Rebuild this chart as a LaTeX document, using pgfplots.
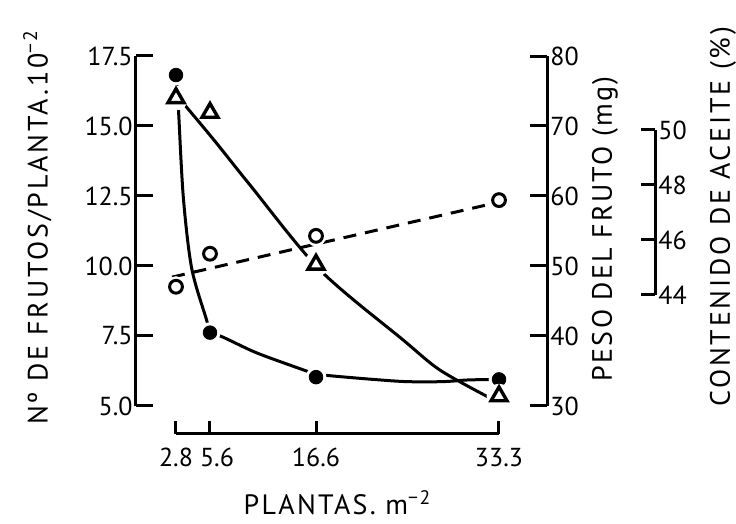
\documentclass[border=0pt]{standalone}
\usepackage{pgfplots}
\pgfplotsset{compat=1.18}
\usepackage{fontspec}
\setmainfont{PT Sans}
\newcommand\ticfont{\fontsize{13}{15}\selectfont}
\newcommand\labfont[1]{\fontsize{14}{16}\selectfont\addfontfeatures{LetterSpace=#1}}
\pgfplotsset{
  base/.style={scale only axis, clip=false, set layers,
    axis line style={line width=1.5pt},
    every tick/.style={line width=1.5pt, black},
    tick align=inside, major tick length=8.5pt,
    ticklabel style={font=\ticfont, inner sep=1.5pt},
    /pgf/number format/assume math mode=true,
    % the hand-drawn density axis is not evenly spaced: piecewise-linear placement
    x coord trafo/.code={\pgfmathparse{(##1<=5.6) ? (2.8+(##1-2.8)*1.1466) : ((##1<=16.6) ? (6.0105+(##1-5.6)*0.9100) : (16.02+(##1-16.6)*1.0348))}},
    xmin=-0.494, xmax=37.677,
  },
  fit/.style={line width=1.5pt, black, no markers, smooth, tension=0.5},
  halo/.style={only marks, mark=*, mark size=#1, draw=white, fill=white, on layer=axis descriptions},
}
\begin{document}
\begin{tikzpicture}
% frutos axis (left)
\begin{axis}[base, at={(68pt,59pt)}, anchor=south west, width=205.5pt, height=175pt,
  ymin=5, ymax=17.5, axis y line*=left, axis x line=none, xtick=\empty,
  ytick={5,7.5,10,12.5,15,17.5},
  yticklabel style={/pgf/number format/.cd, fixed, fixed zerofill, precision=1},
  every axis y label/.style={at={(axis description cs:-0.240,0.511)}, anchor=center, rotate=90, font=\labfont{10}},
  ylabel={Nº DE FRUTOS/PLANTA.10\textsuperscript{−2}}]
\addplot[fit] coordinates {(2.8,16.82) (2.99,15.69) (3.40,12.47) (4.09,9.92) (5.32,8.07) (5.6,7.62) (6.81,7.48) (9.75,7.0) (11.48,6.76) (15.28,6.29) (16.6,6.14) (18.18,6.07) (21.8,5.95) (24.86,5.87) (28.2,5.87) (30.48,5.93) (33.3,5.95)};
\addplot[halo=5pt] coordinates {(2.8,16.82) (5.6,7.62) (16.6,6.03) (33.3,5.95)};
\addplot[only marks, mark=*, mark size=3.4pt, black, on layer=axis foreground] coordinates {(2.8,16.82) (5.6,7.62) (16.6,6.03) (33.3,5.95)};
\end{axis}
% peso axis (right)
\begin{axis}[base, at={(68pt,59pt)}, anchor=south west, width=205.5pt, height=175pt,
  ymin=30, ymax=80, axis y line*=right, axis x line=none, xtick=\empty,
  ytick={30,40,50,60,70,80},
  every axis y label/.style={at={(axis description cs:1.141,0.506)}, anchor=center, rotate=90, font=\labfont{8}},
  ylabel={PESO DEL FRUTO (mg)}]
\addplot[fit] coordinates {(2.8,74.49) (6.01,68.0) (9.75,61.57) (16.96,49.43) (24.55,39.43) (27.9,35.14) (32.3,31.29)};
\addplot[halo=6pt] coordinates {(2.8,74.0) (5.6,71.9) (16.6,50.2) (33.3,31.4)};
\addplot[only marks, mark=triangle, mark size=4.6pt, line width=1.7pt, black, on layer=axis foreground] coordinates {(2.8,74.0) (5.6,71.9) (16.6,50.2) (33.3,31.4)};
\end{axis}
% aceite axis
\begin{axis}[base, at={(68pt,114.5pt)}, anchor=south west, width=259.5pt, height=82.5pt,
  xmax=47.53, ymin=44, ymax=50, axis y line*=right, axis x line=none, xtick=\empty,
  ytick={44,46,48,50}, major tick length=7pt,
  every axis y label/.style={at={(axis description cs:1.131,0.473)}, anchor=center, rotate=90, font=\labfont{10}},
  ylabel={CONTENIDO DE ACEITE (\%)}]
\addplot[line width=1.5pt, black, dash pattern=on 6.5pt off 4.5pt] coordinates {(2.47,44.65) (32.78,47.33)};
\addplot[halo=5pt] coordinates {(2.8,44.30) (5.6,45.50) (16.6,46.15) (33.3,47.45)};
\addplot[only marks, mark=o, mark size=3.2pt, line width=1.5pt, black, on layer=axis foreground] coordinates {(2.8,44.30) (5.6,45.50) (16.6,46.15) (33.3,47.45)};
\end{axis}
% x axis
\begin{axis}[base, at={(88pt,45pt)}, anchor=south west, width=161.5pt, height=20pt,
  xmin=2.8, xmax=33.3, ymin=0, ymax=1, axis x line*=bottom, axis y line=none, ytick=\empty,
  xtick={2.8,5.6,16.6,33.3}, xticklabels={2.8,\hspace*{7pt}5.6,16.6,33.3}, major tick length=6.5pt,
  xticklabel style={yshift=-5.5pt},
  every axis x label/.style={at={(axis description cs:0.5,0)}, anchor=base, inner sep=0pt, yshift=-40.5pt, font=\labfont{8}},
  xlabel={PLANTAS. m\textsuperscript{−2}}]
\end{axis}
\pgfresetboundingbox
\useasboundingbox (0,0) rectangle (368pt,262pt);
\end{tikzpicture}
\end{document}
